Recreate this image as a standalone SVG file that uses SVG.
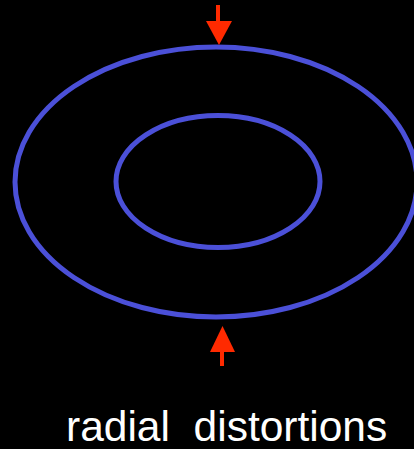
<svg xmlns="http://www.w3.org/2000/svg" width="414" height="449" viewBox="0 0 414 449">
<style>
.ring{fill:none;stroke:#4b50d8;stroke-width:5}
.arr{fill:#ff2a00}
.lbl{font-family:"Liberation Sans",Arial,sans-serif;font-size:42.5px;fill:#ffffff}
</style>
<rect width="414" height="449" fill="#000000"/>
<g id="outer-ring"><ellipse class="ring" cx="216" cy="182" rx="201" ry="135"/></g>
<g id="inner-ring"><ellipse class="ring" cx="218" cy="181.5" rx="102" ry="66"/></g>
<g id="connectors">
<g id="arrow-top"><rect class="arr" x="216" y="5" width="4" height="17"/><polygon class="arr" points="206,21 232,21 219,45"/></g>
<g id="arrow-bottom"><rect class="arr" x="220" y="351" width="4" height="15"/><polygon class="arr" points="210,352 235,352 222.5,326"/></g>
</g>
<g id="label"><text class="lbl" x="66" y="441" xml:space="preserve">radial  distortions</text></g>
</svg>
